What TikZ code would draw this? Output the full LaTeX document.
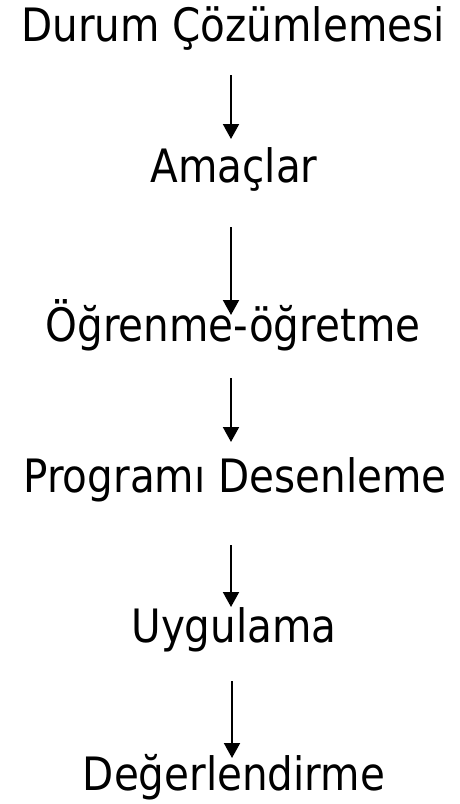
\documentclass[tikz,border=0pt]{standalone}
\usepackage{fontspec}
\setmainfont{DejaVu Sans}
\usetikzlibrary{arrows.meta}
\tikzset{>=latex}
\tikzset{
  stage/.style={anchor=base, inner sep=0pt, xscale=0.88, transform shape,
    font=\fontsize{46pt}{54pt}\selectfont},
  flow/.style={-{Triangle[length=15pt,width=16pt]}, line width=2pt, black}
}

\begin{document}
\begin{tikzpicture}[x=1pt,y=-1pt]

    \useasboundingbox (0,0) rectangle (459,804);

    % stages of the plan
    \node[stage] (durum) at (233,41) {Durum Çözümlemesi};
    \node[stage] (amac) at (234,182) {Amaçlar};
    \node[stage] (ogren) at (233,341) {Öğrenme-öğretme};
    \node[stage] (desen) at (235,492) {Programı Desenleme};
    \node[stage] (uygul) at (234,642) {Uygulama};
    \node[stage] (deger) at (234,790) {Değerlendirme};

    % arrow ends
    \coordinate (f1) at (231,75);  \coordinate (t1) at (231,139);
    \coordinate (f2) at (231,227); \coordinate (t2) at (231,315);
    \coordinate (f3) at (231,378); \coordinate (t3) at (231,442);
    \coordinate (f4) at (231,545); \coordinate (t4) at (231,607);
    \coordinate (f5) at (232,681); \coordinate (t5) at (232,758);

    \foreach \i in {1,...,5}
    \draw[flow] (f\i) -- (t\i);

\end{tikzpicture}
\end{document}
